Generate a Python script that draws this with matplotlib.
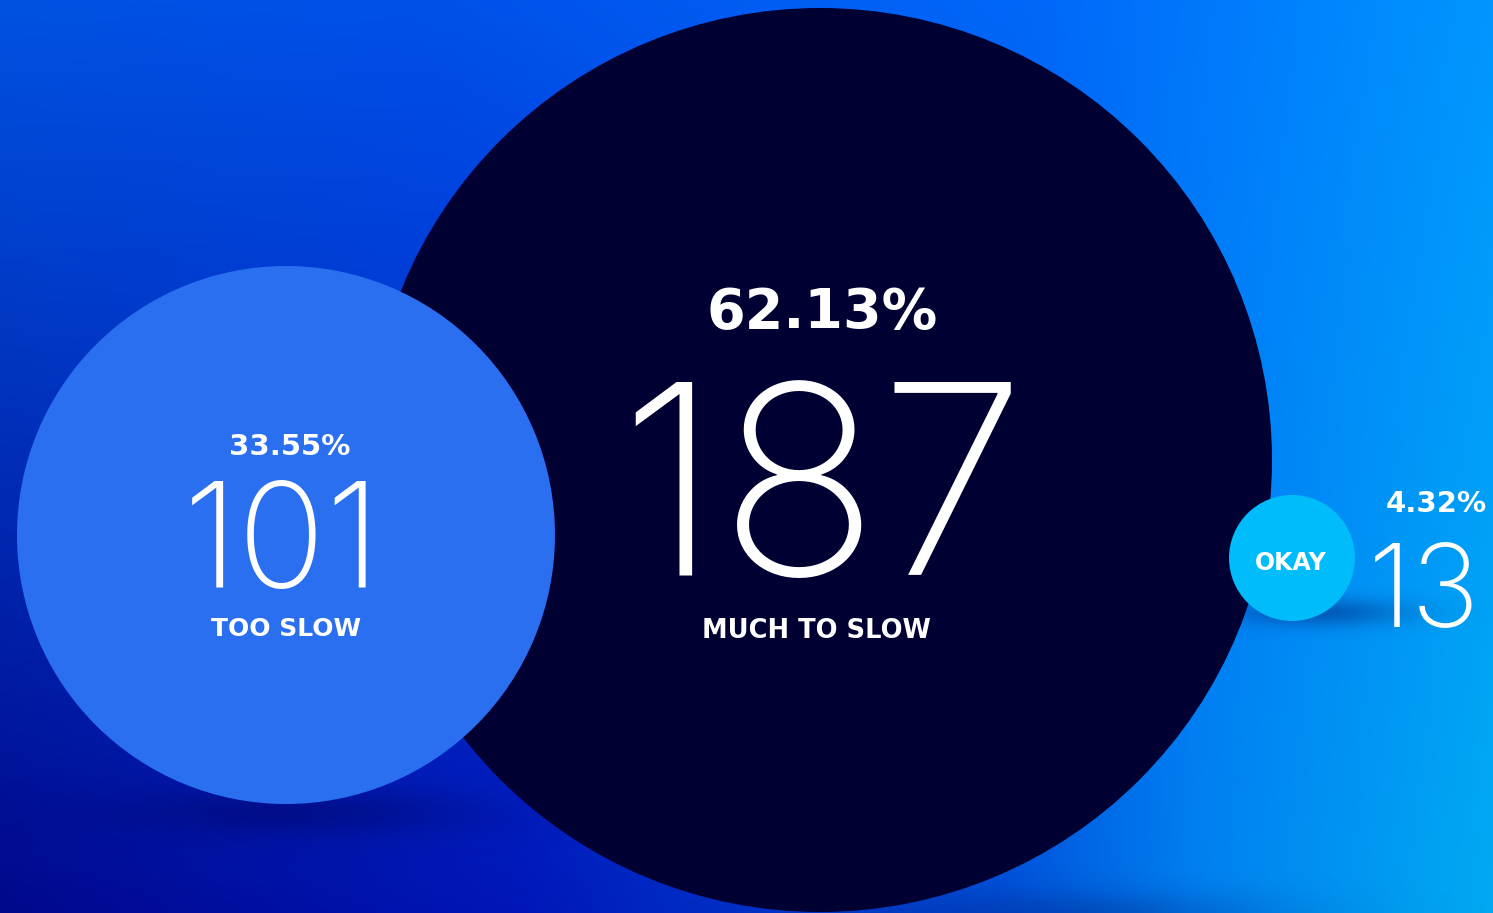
import numpy as np
import matplotlib
matplotlib.use("Agg")
import matplotlib.pyplot as plt
from matplotlib.patches import Circle
from matplotlib import font_manager
from matplotlib.colors import to_rgb

# ---------------- data ----------------
categories = ["MUCH TO SLOW", "TOO SLOW", "OKAY"]
counts = [187, 101, 13]
percents = [62.13, 33.55, 4.32]

# ---------------- layout / style (pixels) ----------------
W, H = 1493, 913
centers = [(820, 460), (286, 535), (1292, 558)]
radii = [452, 269, 63]
colors = ["#000033", "#2A6FF0", "#00BCFB"]


def font_file(name, weight):
    for f in font_manager.fontManager.ttflist:
        if f.name == name and f.weight == weight:
            return f.fname
    return None


_thin = font_file("Inter", 200) or font_file("Inter", 100)


def thin(size):
    if _thin:
        return font_manager.FontProperties(fname=_thin, size=size)
    return font_manager.FontProperties(family="Roboto", weight=250, size=size)


fig = plt.figure(figsize=(W / 100, H / 100), dpi=100)
ax = fig.add_axes([0, 0, 1, 1])
ax.set_xlim(0, W)
ax.set_ylim(H, 0)
ax.axis("off")


# ---------------- background gradient ----------------
def row(stops, n):
    xs = np.linspace(0, 1, n)
    pos = [s[0] for s in stops]
    cols = np.array([to_rgb(s[1]) for s in stops])
    return np.stack([np.interp(xs, pos, cols[:, c]) for c in range(3)], axis=1)


top = row([(0, "#0052E2"), (0.3, "#0050EA"), (0.7, "#0068FA"), (1, "#0096FF")], W)
bot = row([(0, "#00088C"), (0.35, "#0016B8"), (0.67, "#0050D8"),
           (0.8, "#0080F0"), (1, "#00AAF2")], W)
t = np.linspace(0, 1, H)[:, None, None]
bg = top[None, :, :] * (1 - t) + bot[None, :, :] * t
ax.imshow(bg, extent=(0, W, H, 0), interpolation="bilinear", zorder=0, aspect="auto")

# ---------------- soft shadows ----------------
yy, xx = np.mgrid[0:H, 0:W]
alpha = np.zeros((H, W))
shadow_specs = [  # (cx, cy, sx, sy, amax)
    (300, 812, 170, 24, 0.35),
    (1320, 612, 85, 14, 0.35),
    (1080, 915, 200, 25, 0.25),
]
for sx0, sy0, sw, sh, am in shadow_specs:
    alpha = np.maximum(alpha, am * np.exp(-((xx - sx0) / sw) ** 2 - ((yy - sy0) / sh) ** 2))
shadow = np.zeros((H, W, 4))
shadow[..., :3] = to_rgb("#000050")
shadow[..., 3] = alpha
ax.imshow(shadow, extent=(0, W, H, 0), interpolation="bilinear", zorder=1, aspect="auto")

# ---------------- bubbles ----------------
for (cx, cy), r, c in zip(centers, radii, colors):
    ax.add_patch(Circle((cx, cy), r, facecolor=c, edgecolor="none", zorder=2))

ax.set_xlim(0, W)
ax.set_ylim(H, 0)

bold = dict(family="DejaVu Sans", fontweight="bold", color="white", zorder=3)

# MUCH TO SLOW (big bubble)
ax.text(822, 328, f"{percents[0]:.2f}%", ha="center", va="baseline", fontsize=40, **bold)
ax.text(822, 575, f"{counts[0]}", ha="center", va="baseline",
        fontproperties=thin(191), color="white", zorder=3)
ax.text(816, 638, categories[0], ha="center", va="baseline", fontsize=18.5, **bold)

# TOO SLOW
ax.text(290, 455, f"{percents[1]:.2f}%", ha="center", va="baseline", fontsize=21, **bold)
ax.text(282, 588, f"{counts[1]}", ha="center", va="baseline",
        fontproperties=thin(105), color="white", zorder=3)
ax.text(286, 636, categories[1], ha="center", va="baseline", fontsize=18, **bold)

# OKAY
ax.text(1291, 570, categories[2], ha="center", va="baseline", fontsize=17, **bold)
ax.text(1436, 512, f"{percents[2]:.2f}%", ha="center", va="baseline", fontsize=21, **bold)
ax.text(1424, 627, f"{counts[2]}", ha="center", va="baseline",
        fontproperties=thin(83), color="white", zorder=3)

fig.savefig("out.png", dpi=100)
